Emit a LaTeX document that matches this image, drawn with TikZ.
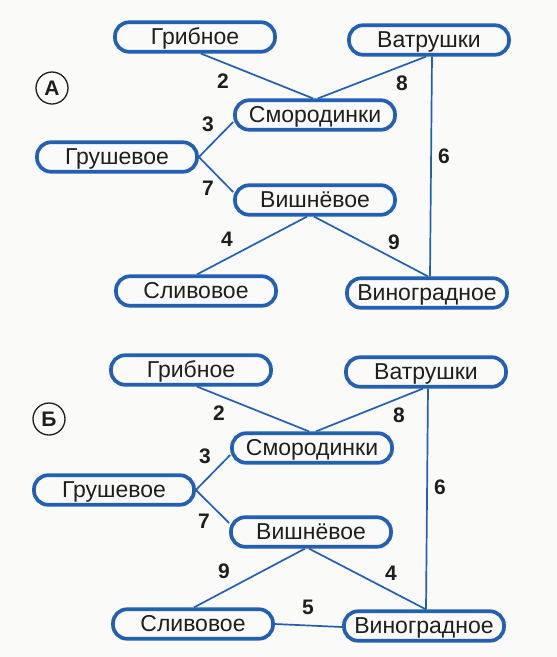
\documentclass[tikz,border=0pt]{standalone}
\usepackage{fontspec}
\setmainfont{Liberation Sans}
\definecolor{bblue}{RGB}{36,96,176}
\definecolor{bg}{RGB}{250,250,248}
\definecolor{ink}{RGB}{30,30,30}
\begin{document}
\begin{tikzpicture}[x=1pt,y=-1pt,
 box/.style={draw=bblue, line width=3.7pt, rounded corners=14pt, fill=bg,
   minimum width=160pt, minimum height=29.5pt, inner sep=0pt, text=ink,
   text height=16.5pt, text depth=2pt, font=\fontsize{23}{23}\selectfont},
 edge/.style={draw=bblue, line width=1.7pt},
 num/.style={font=\fontsize{21}{21}\selectfont\bfseries, inner sep=0pt, text=ink},
 tag/.style={circle, draw=ink, line width=1.3pt, minimum size=32pt, inner sep=0pt,
   text=ink, font=\fontsize{21}{21}\selectfont\bfseries}]
\fill[bg] (0,0) rectangle (557,657);
\useasboundingbox (0,0) rectangle (557,657);

% ---------- Graph A ----------
\node[box] (grA) at (195,37) {Грибное};
\node[box] (vaA) at (429,40) {Ватрушки};
\node[box] (smA) at (315,115) {Смородинки};
\node[box] (gruA) at (117,157) {Грушевое};
\node[box] (viA) at (315,200) {Вишнёвое};
\node[box] (slA) at (196,291) {Сливовое};
\node[box] (vnA) at (427,293) {Виноградное};
\node[tag] (tA) at (52,88) {А};

\draw[edge] ([xshift=6pt]grA.south) -- ([xshift=-2pt]smA.north);
\draw[edge] ([xshift=-3pt]vaA.south) -- ([xshift=3pt]smA.north);
\draw[edge] ([xshift=3pt]vaA.south) -- ([xshift=3pt]vnA.north);
\draw[edge] (gruA.east) -- ([yshift=-7pt]smA.west);
\draw[edge] (gruA.east) -- ([yshift=8pt]viA.west);
\draw[edge] ([xshift=-8pt]viA.south) -- ([xshift=1pt]slA.north);
\draw[edge] ([xshift=-1pt]viA.south) -- ([xshift=1pt]vnA.north);

\node[num] (a2) at (223,81) {2};
\node[num] (a8) at (402,83) {8};
\node[num] (a6) at (444,156) {6};
\node[num] (a3) at (208,124) {3};
\node[num] (a7) at (208,188) {7};
\node[num] (a4) at (227,239) {4};
\node[num] (a9) at (394,242) {9};

% ---------- Graph B ----------
\node[box] (grB) at (191,370) {Грибное};
\node[box] (vaB) at (426,372) {Ватрушки};
\node[box] (smB) at (312,448) {Смородинки};
\node[box] (gruB) at (114,490) {Грушевое};
\node[box] (viB) at (311,532) {Вишнёвое};
\node[box] (slB) at (193,624) {Сливовое};
\node[box] (vnB) at (424,626) {Виноградное};
\node[tag] (tB) at (49,419) {Б};

\draw[edge] ([xshift=6pt]grB.south) -- ([xshift=-3pt]smB.north);
\draw[edge] ([xshift=-3pt]vaB.south) -- ([xshift=4pt]smB.north);
\draw[edge] ([xshift=2pt]vaB.south) -- ([xshift=2pt]vnB.north);
\draw[edge] (gruB.east) -- ([yshift=-7pt]smB.west);
\draw[edge] (gruB.east) -- ([yshift=9pt]viB.west);
\draw[edge] ([xshift=-6pt]viB.south) -- ([xshift=1pt]slB.north);
\draw[edge] ([xshift=-2pt]viB.south) -- ([xshift=2pt]vnB.north);
\draw[edge] (slB.east) -- ([yshift=-1pt]vnB.west);

\node[num] (b2) at (219,413) {2};
\node[num] (b8) at (399,415) {8};
\node[num] (b6) at (440,487) {6};
\node[num] (b3) at (205,456) {3};
\node[num] (b7) at (204,521) {7};
\node[num] (b9) at (224,571) {9};
\node[num] (b4) at (391,573) {4};
\node[num] (b5) at (308,607) {5};
\end{tikzpicture}
\end{document}
